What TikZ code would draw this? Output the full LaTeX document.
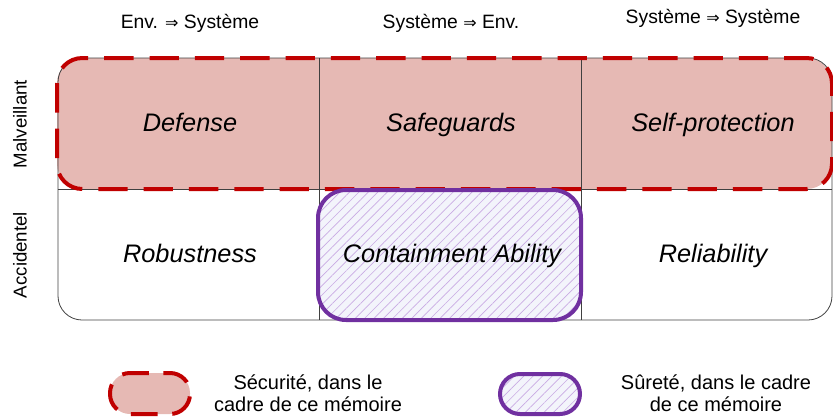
\documentclass[tikz,border=0pt]{standalone}
\usepackage{fontspec}
\setmainfont{Liberation Sans}
\newfontfamily\symb{DejaVu Sans}
\usetikzlibrary{patterns.meta}

\definecolor{secred}{HTML}{C00000}
\definecolor{secfill}{HTML}{E6B9B4}
\definecolor{surpurple}{HTML}{7030A0}
\definecolor{surfill}{HTML}{F3F4FB}
\definecolor{surhatch}{HTML}{C9ABE3}
\definecolor{grille}{HTML}{404040}

\newcommand{\implique}{{\symb\fontsize{12}{14}\selectfont ⇒}}

\tikzset{
  secfond/.style={fill=secfill, rounded corners=19pt},
  secbord/.style={draw=secred, line width=3pt, dash pattern=on 22pt off 12pt, rounded corners=19pt},
  surete/.style={draw=surpurple, line width=3pt, rounded corners=21pt,
    preaction={fill=surfill},
    preaction={pattern={Lines[angle=45,distance=5pt,line width=0.5pt]}, pattern color=surhatch}},
  grillestyle/.style={draw=grille, line width=0.6pt},
  cellule/.style={font=\fontsize{19}{23}\selectfont\itshape, anchor=base},
  entete/.style={font=\fontsize{14.5}{17}\selectfont, anchor=base},
  ligne/.style={font=\fontsize{14}{17}\selectfont, rotate=90},
  legende/.style={font=\fontsize{15}{16.5}\selectfont, align=center, anchor=base},
}

\begin{document}
\begin{tikzpicture}[x=0.75pt, y=-0.75pt]
	\useasboundingbox (0,0) rectangle (833,419);

	% fond rouge : securite
	\fill[secfond] (57,58) rectangle (832,189);

	% tableau
	\draw[grillestyle, rounded corners=18pt] (58,58) rectangle (832,320);
	\draw[grillestyle] (319,58) -- (319,320);
	\draw[grillestyle] (581,58) -- (581,320);
	\draw[grillestyle] (58,189) -- (832,189);

	% bord rouge
	\draw[secbord] (57,58) rectangle (832,189);

	% surete
	\draw[surete] (318,190) rectangle (581,320);

	% en-tetes
	\node[entete] (envsys) at (190,28) {Env. \implique{} Système};
	\node[entete] (sysenv) at (451,28) {Système \implique{} Env.};
	\node[entete] (syssys) at (713,23) {Système \implique{} Système};
	\node[ligne] (malv) at (20,124) {Malveillant};
	\node[ligne] (accid) at (20,255) {Accidentel};

	% cellules
	\node[cellule] (defense) at (190,131) {Defense};
	\node[cellule] (safeguards) at (451,131) {Safeguards};
	\node[cellule] (selfprot) at (713,131) {Self-protection};
	\node[cellule] (robust) at (190,262) {Robustness};
	\node[cellule] (contain) at (452,262) {Containment Ability};
	\node[cellule] (reliab) at (713,262) {Reliability};

	% legende
	\fill[secfond, rounded corners=15pt] (110,373) rectangle (190,414);
	\draw[secbord, rounded corners=15pt, dash pattern=on 20pt off 11pt, dash phase=6pt] (110,373) rectangle (190,414);
	\node[legende] (legsec) at (308,411) {Sécurité, dans le\\cadre de ce mémoire};
	\draw[surete, rounded corners=15pt] (500,374) rectangle (580,414);
	\node[legende] (legsur) at (716,411) {Sûreté, dans le cadre\\de ce mémoire};
\end{tikzpicture}
\end{document}
